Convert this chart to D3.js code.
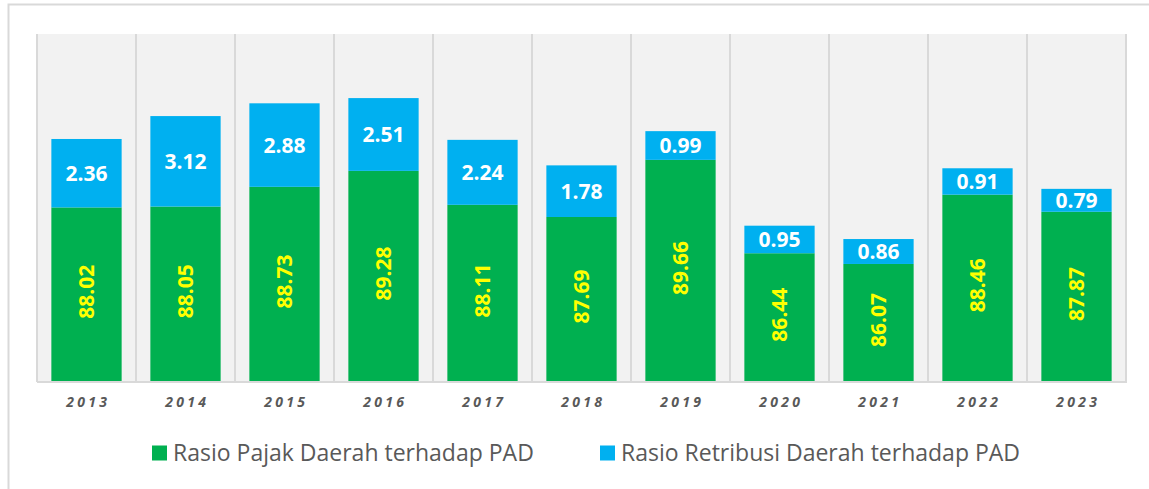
<!DOCTYPE html>
<html>
<head>
<meta charset="utf-8">
<script src="https://cdn.jsdelivr.net/npm/d3@7"></script>
<style>
  body { margin: 0; background: #fff; }
  svg { display: block; font-family: 'Open Sans', sans-serif; }
</style>
</head>
<body>
<svg width="1149" height="489"></svg>
<script>
const years = ['2013', '2014', '2015', '2016', '2017', '2018', '2019', '2020', '2021', '2022', '2023'];
const pajak = [88.02, 88.05, 88.73, 89.28, 88.11, 87.69, 89.66, 86.44, 86.07, 88.46, 87.87];
const retribusi = [2.36, 3.12, 2.88, 2.51, 2.24, 1.78, 0.99, 0.95, 0.86, 0.91, 0.79];
const seriesNames = ['Rasio Pajak Daerah terhadap PAD', 'Rasio Retribusi Daerah terhadap PAD'];
const yDomain = [82, 94];

const green = '#00b050';
const blue = '#00b0f0';

const svg = d3.select('svg');

// outer frame
svg.append('rect')
  .attr('x', 8.5).attr('y', 4.5)
  .attr('width', 1160).attr('height', 500)
  .attr('fill', 'none')
  .attr('stroke', '#d9d9d9')
  .attr('stroke-width', 2);

const xScale = d3.scaleBand().domain(years).range([37, 1126]).paddingInner(0.29).paddingOuter(0.145);
const yScale = d3.scaleLinear().domain(yDomain).range([382, 34]);

const band = (1126 - 37) / years.length;

// plot background
svg.append('rect')
  .attr('x', 37).attr('y', 34)
  .attr('width', 1126 - 37).attr('height', 382 - 34)
  .attr('fill', '#f2f2f2');

// vertical gridlines between categories
svg.append('g')
  .selectAll('line')
  .data(d3.range(years.length + 1))
  .enter()
  .append('line')
    .attr('x1', (i) => 37 + i * band)
    .attr('x2', (i) => 37 + i * band)
    .attr('y1', 34)
    .attr('y2', 382)
    .attr('stroke', '#d9d9d9')
    .attr('stroke-width', 2);

const rows = years.map((y, i) => ({ year: y, p: pajak[i], r: retribusi[i] }));

// green bars
svg.append('g')
  .selectAll('rect')
  .data(rows)
  .enter()
  .append('rect')
    .attr('x', (d) => xScale(d.year))
    .attr('width', xScale.bandwidth())
    .attr('y', (d) => yScale(d.p))
    .attr('height', (d) => yScale(yDomain[0]) - yScale(d.p))
    .attr('fill', green);

// blue bars
svg.append('g')
  .selectAll('rect')
  .data(rows)
  .enter()
  .append('rect')
    .attr('x', (d) => xScale(d.year))
    .attr('width', xScale.bandwidth())
    .attr('y', (d) => yScale(d.p + d.r))
    .attr('height', (d) => yScale(d.p) - yScale(d.p + d.r))
    .attr('fill', blue);

// bottom axis line
svg.append('line')
  .attr('x1', 37).attr('x2', 1127)
  .attr('y1', 382).attr('y2', 382)
  .attr('stroke', '#d9d9d9')
  .attr('stroke-width', 2);

// green labels (rotated, yellow)
svg.append('g')
  .selectAll('text')
  .data(rows)
  .enter()
  .append('text')
    .text((d) => d.p.toFixed(2))
    .attr('transform', (d) => {
      const cx = xScale(d.year) + xScale.bandwidth() / 2;
      const cy = (yScale(d.p) + yScale(yDomain[0])) / 2 - 3;
      return `translate(${cx},${cy}) rotate(-90)`;
    })
    .attr('text-anchor', 'middle')
    .attr('dy', '0.36em')
    .style('font-size', '21px')
    .style('font-weight', 'bold')
    .style('fill', '#ffff00');

// blue labels (white)
svg.append('g')
  .selectAll('text')
  .data(rows)
  .enter()
  .append('text')
    .text((d) => d.r.toFixed(2))
    .attr('x', (d) => xScale(d.year) + xScale.bandwidth() / 2)
    .attr('y', (d) => (yScale(d.p) + yScale(d.p + d.r)) / 2)
    .attr('text-anchor', 'middle')
    .attr('dy', '0.36em')
    .style('font-size', '21px')
    .style('font-weight', 'bold')
    .style('fill', '#ffffff');

// x axis labels
const xAxis = d3.axisBottom(xScale).tickSize(0).tickPadding(0);
const gx = svg.append('g')
  .attr('transform', 'translate(0, 397)')
  .call(xAxis);
gx.select('.domain').remove();
gx.selectAll('text')
  .attr('dx', '0.12em')
  .style('font-family', "'Open Sans', sans-serif")
  .style('font-size', '14px')
  .style('font-weight', 'bold')
  .style('font-style', 'italic')
  .style('letter-spacing', '3.3px')
  .style('fill', '#595959');

// legend
const legendItems = [
  { name: seriesNames[0], color: green, x: 152 },
  { name: seriesNames[1], color: blue, x: 600 }
];
const legend = svg.append('g')
  .selectAll('g')
  .data(legendItems)
  .enter()
  .append('g')
    .attr('transform', (d) => `translate(${d.x}, 453)`);
legend.append('rect')
  .attr('x', 0).attr('y', -7.5)
  .attr('width', 15).attr('height', 15)
  .attr('fill', (d) => d.color);
legend.append('text')
  .text((d) => d.name)
  .attr('x', 21)
  .attr('dy', '0.35em')
  .style('font-size', '23px')
  .style('fill', '#595959');
</script>
</body>
</html>
